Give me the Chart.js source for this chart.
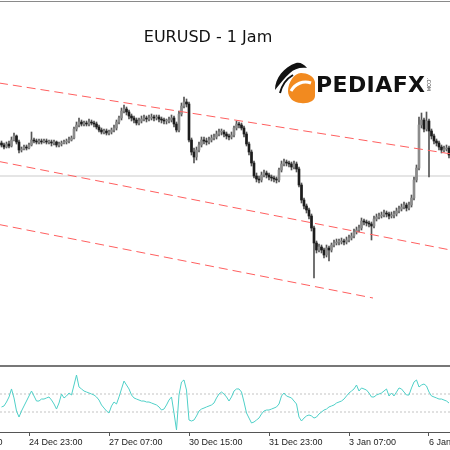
<!DOCTYPE html>
<html>
<head>
<meta charset="utf-8">
<script src="https://cdn.jsdelivr.net/npm/chart.js@4.4.1/dist/chart.umd.min.js"></script>
<style>
  html,body{margin:0;padding:0;background:#fff;}
  #wrap{position:relative;width:450px;height:450px;overflow:hidden;background:#fff;}
  canvas{position:absolute;left:0;}
  .title{position:absolute;left:0;top:29px;width:416px;text-align:center;font-family:"DejaVu Sans",sans-serif;font-size:16px;line-height:16px;color:#111;}
  .brand{position:absolute;left:316px;top:74px;font-family:"DejaVu Sans",sans-serif;font-weight:bold;font-size:22px;line-height:22px;color:#111;letter-spacing:0.4px;}
  .dotcom{position:absolute;left:419px;top:82px;width:18px;text-align:center;font-family:"DejaVu Sans",sans-serif;font-size:5px;line-height:5px;color:#333;transform:rotate(90deg);}
</style>
</head>
<body>
<div id="wrap">
  <div style="position:absolute;left:0;top:1px;width:450px;height:1px;background:#8a8a8a;"></div>
  <canvas id="main" width="450" height="365" style="top:0;"></canvas>
  <div style="position:absolute;left:0;top:365px;width:450px;height:2px;background:#777;"></div>
  <canvas id="osc" width="450" height="83" style="top:367px;"></canvas>
  <div class="title">EURUSD - 1 Jam</div>
  <svg style="position:absolute;left:270px;top:58px" width="50" height="50" viewBox="0 0 50 50">
    <path d="M31 15 C37 15 44 18 45 24 L45 38 C45 43 38 46 31 45 C24 45 18 40 18 33 C18 25 24 15 31 15 Z" fill="#f28a1f"/>
    <path d="M21 33 C25 26 33 22 41 25" stroke="#fff" stroke-width="3" fill="none"/>
    <path d="M5 32 C5 20 14 9 26 5 C30 4 34 6 37 10 C30 9 24 11 20 15 C14 20 10 26 5 32 Z" fill="#111"/>
    <path d="M10 35 C12 27 16 21 23 17" stroke="#111" stroke-width="2" fill="none"/>
  </svg>
  <div class="brand">PEDIAFX</div>
  <div class="dotcom">.COM</div>
</div>
<script>
// ---- data ----
const tickIndex  = [-21, 11, 43, 75, 107, 139, 171];
const tickLabels = ['23 Dec 15:00','24 Dec 23:00','27 Dec 07:00','30 Dec 15:00','31 Dec 23:00','3 Jan 07:00','6 Jan 15:00'];

const opens = [
1.0414,1.0412,1.0410,1.0413,1.0411,1.0417,1.0421,1.0415,1.0407,1.0408,
1.0410,1.0409,1.0412,1.0417,1.0416,1.0415,1.0416,1.0415,1.0416,1.0415,
1.0415,1.0414,1.0415,1.0412,1.0413,1.0414,1.0415,1.0416,1.0417,1.0419,
1.0428,1.0432,1.0435,1.0433,1.0434,1.0433,1.0435,1.0434,1.0433,1.0430,
1.0427,1.0425,1.0426,1.0424,1.0425,1.0427,1.0429,1.0435,1.0439,1.0446,
1.0448,1.0445,1.0441,1.0439,1.0437,1.0434,1.0436,1.0438,1.0439,1.0438,
1.0439,1.0440,1.0439,1.0440,1.0438,1.0437,1.0436,1.0436,1.0437,1.0439,
1.0433,1.0427,1.0443,1.0451,1.0455,1.0453,1.0417,1.0405,1.0400,1.0407,
1.0412,1.0417,1.0416,1.0415,1.0417,1.0419,1.0420,1.0423,1.0425,1.0425,
1.0423,1.0421,1.0420,1.0422,1.0429,1.0433,1.0432,1.0429,1.0423,1.0413,
1.0405,1.0394,1.0381,1.0378,1.0377,1.0382,1.0384,1.0382,1.0380,1.0379,
1.0378,1.0377,1.0387,1.0393,1.0395,1.0394,1.0393,1.0390,1.0393,1.0388,
1.0372,1.0357,1.0351,1.0347,1.0341,1.0329,1.0314,1.0307,1.0310,1.0307,
1.0302,1.0309,1.0307,1.0312,1.0314,1.0315,1.0315,1.0316,1.0315,1.0317,
1.0319,1.0321,1.0325,1.0327,1.0329,1.0336,1.0335,1.0334,1.0333,1.0331,
1.0338,1.0340,1.0341,1.0342,1.0344,1.0343,1.0341,1.0342,1.0343,1.0346,
1.0348,1.0350,1.0352,1.0349,1.0352,1.0359,1.0377,1.0389,1.0432,1.0437,
1.0428,1.0436,1.0426,1.0421,1.0416,1.0414,1.0410,1.0407,1.0408,1.0409];

const highs = [
1.0416,1.0414,1.0415,1.0416,1.0420,1.0424,1.0422,1.0417,1.0410,1.0412,
1.0412,1.0414,1.0425,1.0419,1.0418,1.0418,1.0418,1.0418,1.0418,1.0417,
1.0417,1.0417,1.0416,1.0415,1.0416,1.0417,1.0418,1.0420,1.0421,1.0430,
1.0435,1.0439,1.0437,1.0436,1.0436,1.0438,1.0437,1.0436,1.0435,1.0432,
1.0429,1.0428,1.0428,1.0427,1.0429,1.0432,1.0437,1.0441,1.0449,1.0452,
1.0450,1.0447,1.0443,1.0441,1.0439,1.0439,1.0441,1.0442,1.0441,1.0442,
1.0443,1.0442,1.0442,1.0442,1.0440,1.0439,1.0438,1.0440,1.0442,1.0441,
1.0435,1.0446,1.0454,1.0460,1.0458,1.0455,1.0419,1.0409,1.0410,1.0415,
1.0420,1.0420,1.0419,1.0420,1.0422,1.0423,1.0426,1.0428,1.0428,1.0427,
1.0425,1.0423,1.0425,1.0431,1.0436,1.0435,1.0434,1.0431,1.0425,1.0415,
1.0407,1.0396,1.0384,1.0381,1.0385,1.0387,1.0386,1.0384,1.0382,1.0381,
1.0380,1.0389,1.0396,1.0398,1.0397,1.0396,1.0395,1.0396,1.0395,1.0390,
1.0374,1.0359,1.0353,1.0349,1.0343,1.0331,1.0316,1.0313,1.0312,1.0309,
1.0312,1.0311,1.0314,1.0317,1.0318,1.0318,1.0319,1.0318,1.0320,1.0322,
1.0324,1.0328,1.0330,1.0332,1.0339,1.0338,1.0337,1.0336,1.0335,1.0341,
1.0343,1.0344,1.0345,1.0347,1.0346,1.0345,1.0345,1.0346,1.0349,1.0351,
1.0353,1.0355,1.0354,1.0355,1.0362,1.0380,1.0392,1.0440,1.0444,1.0439,
1.0445,1.0438,1.0428,1.0423,1.0418,1.0416,1.0412,1.0411,1.0412,1.0411];

const lows = [
1.0410,1.0408,1.0409,1.0409,1.0410,1.0416,1.0413,1.0404,1.0405,1.0407,
1.0407,1.0408,1.0411,1.0414,1.0413,1.0413,1.0413,1.0414,1.0413,1.0413,
1.0411,1.0412,1.0410,1.0410,1.0411,1.0413,1.0413,1.0414,1.0416,1.0418,
1.0426,1.0430,1.0431,1.0431,1.0431,1.0431,1.0432,1.0430,1.0428,1.0425,
1.0423,1.0423,1.0422,1.0422,1.0423,1.0425,1.0427,1.0433,1.0437,1.0444,
1.0442,1.0438,1.0436,1.0434,1.0432,1.0432,1.0434,1.0436,1.0435,1.0436,
1.0437,1.0436,1.0437,1.0435,1.0434,1.0433,1.0433,1.0434,1.0435,1.0430,
1.0425,1.0425,1.0441,1.0449,1.0450,1.0415,1.0402,1.0394,1.0397,1.0405,
1.0410,1.0413,1.0412,1.0413,1.0415,1.0417,1.0418,1.0421,1.0422,1.0420,
1.0418,1.0417,1.0418,1.0420,1.0427,1.0429,1.0427,1.0420,1.0411,1.0402,
1.0391,1.0379,1.0375,1.0374,1.0375,1.0380,1.0379,1.0377,1.0376,1.0375,
1.0374,1.0375,1.0385,1.0391,1.0391,1.0390,1.0387,1.0388,1.0385,1.0370,
1.0354,1.0348,1.0344,1.0338,1.0326,1.0279,1.0304,1.0305,1.0304,1.0299,
1.0300,1.0296,1.0305,1.0310,1.0312,1.0312,1.0313,1.0312,1.0313,1.0315,
1.0317,1.0319,1.0323,1.0325,1.0327,1.0332,1.0331,1.0330,1.0317,1.0329,
1.0336,1.0338,1.0339,1.0340,1.0340,1.0338,1.0339,1.0339,1.0341,1.0344,
1.0346,1.0348,1.0346,1.0347,1.0350,1.0357,1.0375,1.0387,1.0429,1.0425,
1.0426,1.0380,1.0418,1.0413,1.0411,1.0407,1.0404,1.0405,1.0406,1.0399];

const closes = [
1.0412,1.0410,1.0413,1.0411,1.0417,1.0421,1.0415,1.0407,1.0408,1.0410,
1.0409,1.0412,1.0417,1.0416,1.0415,1.0416,1.0415,1.0416,1.0415,1.0415,
1.0414,1.0415,1.0412,1.0413,1.0414,1.0415,1.0416,1.0417,1.0419,1.0428,
1.0432,1.0435,1.0433,1.0434,1.0433,1.0435,1.0434,1.0433,1.0430,1.0427,
1.0425,1.0426,1.0424,1.0425,1.0427,1.0429,1.0435,1.0439,1.0446,1.0448,
1.0445,1.0441,1.0439,1.0437,1.0434,1.0436,1.0438,1.0439,1.0438,1.0439,
1.0440,1.0439,1.0440,1.0438,1.0437,1.0436,1.0436,1.0437,1.0439,1.0433,
1.0427,1.0443,1.0451,1.0455,1.0453,1.0417,1.0405,1.0400,1.0407,1.0412,
1.0417,1.0416,1.0415,1.0417,1.0419,1.0420,1.0423,1.0425,1.0425,1.0423,
1.0421,1.0420,1.0422,1.0429,1.0433,1.0432,1.0429,1.0423,1.0413,1.0405,
1.0394,1.0381,1.0378,1.0377,1.0382,1.0384,1.0382,1.0380,1.0379,1.0378,
1.0377,1.0387,1.0393,1.0395,1.0394,1.0393,1.0390,1.0393,1.0388,1.0372,
1.0357,1.0351,1.0347,1.0341,1.0329,1.0314,1.0307,1.0310,1.0307,1.0302,
1.0309,1.0307,1.0312,1.0314,1.0315,1.0315,1.0316,1.0315,1.0317,1.0319,
1.0321,1.0325,1.0327,1.0329,1.0336,1.0335,1.0334,1.0333,1.0331,1.0338,
1.0340,1.0341,1.0342,1.0344,1.0343,1.0341,1.0342,1.0343,1.0346,1.0348,
1.0350,1.0352,1.0349,1.0352,1.0359,1.0377,1.0389,1.0432,1.0437,1.0428,
1.0436,1.0426,1.0421,1.0416,1.0414,1.0410,1.0407,1.0408,1.0409,1.0402];

const oscValues = [
45.6,46.7,51.1,56.7,65.6,55.6,41.1,34.4,41.1,46.7,
52.2,57.8,63.3,57.8,52.2,52.2,54.4,54.4,55.6,56.7,
53.3,48.9,43.3,50.0,60.0,55.6,57.8,61.1,58.9,70.0,
81.1,67.8,65.6,63.3,62.2,61.1,60.0,58.9,56.7,53.3,
47.8,44.4,41.1,38.9,46.7,51.1,48.9,56.7,65.6,74.4,
70.0,65.6,58.9,55.6,54.4,53.3,52.2,52.2,51.1,51.1,
50.0,48.9,47.8,45.6,42.2,43.3,47.8,53.3,56.7,38.9,
20.0,58.9,73.3,75.6,64.4,31.1,30.0,31.1,35.6,41.1,
43.3,44.4,45.6,46.7,47.8,50.0,55.6,60.0,62.2,60.0,
56.7,52.2,56.7,63.3,65.6,65.6,62.2,51.1,38.9,33.3,
27.8,28.9,31.1,33.3,37.8,41.1,42.2,42.2,43.3,44.4,
45.6,48.9,57.8,61.1,57.8,56.7,55.6,52.2,48.9,34.4,
30.0,33.3,35.6,36.7,35.6,33.3,34.4,37.8,40.0,42.2,
43.3,45.6,46.7,47.8,50.0,51.1,52.2,54.4,57.8,61.1,
63.3,65.6,70.0,63.3,66.7,65.6,64.4,61.1,56.7,56.7,
58.9,60.0,61.1,63.3,65.6,57.8,61.1,57.8,62.2,66.7,
65.6,62.2,58.9,58.9,66.7,73.3,75.6,67.8,70.0,71.1,
68.9,62.2,57.8,56.7,55.6,54.4,54.4,53.3,52.2,50.0];
const oscLevels = [60, 40];

// trend channel (bar index, price)
const chanTopIdx = [-1, 180],   chanTopPrice = [1.0474, 1.0403];
const chanMidIdx = [-1, 180],   chanMidPrice = [1.03955, 1.03068];
const chanBotIdx = [-1, 148.6], chanBotPrice = [1.03325, 1.0259];
const hLinePrice = 1.0381;

// ---- charts ----
Chart.defaults.font.family = '"Liberation Sans", sans-serif';
const xMin = -0.6, xMax = 179.4;

const bodies = opens.map((o, i) => ({x: i, y: [o, closes[i]]}));
const bodyColors = opens.map((o, i) => closes[i] >= o ? '#8c8c8c' : '#1c1c1c');
const wicks = highs.map((h, i) => ({x: i, y: [lows[i], h]}));
const pts = (xs, ys) => xs.map((x, k) => ({x: x, y: ys[k]}));

new Chart(document.getElementById('main'), {
  type: 'bar',
  data: {
    datasets: [
      {type:'line', data: pts(chanTopIdx, chanTopPrice), borderColor:'rgb(255,95,95)', borderWidth:1, borderDash:[9,5], pointRadius:0, order:0},
      {type:'line', data: pts(chanMidIdx, chanMidPrice), borderColor:'rgb(255,95,95)', borderWidth:1, borderDash:[9,5], pointRadius:0, order:0},
      {type:'line', data: pts(chanBotIdx, chanBotPrice), borderColor:'rgb(255,95,95)', borderWidth:1, borderDash:[9,5], pointRadius:0, order:0},
      {type:'bar', data: bodies, backgroundColor: bodyColors, barThickness:2, grouped:false, minBarLength:1, order:1},
      {type:'bar', data: wicks, backgroundColor:'#555', barThickness:1, grouped:false, order:2},
      {type:'line', data: pts([xMin, xMax], [hLinePrice, hLinePrice]), borderColor:'#dcdcdc', borderWidth:1.5, pointRadius:0, order:5}
    ]
  },
  options: {
    responsive:false, animation:false, devicePixelRatio:1,
    layout:{padding:0},
    plugins:{legend:{display:false}, tooltip:{enabled:false}},
    scales:{
      x:{type:'linear', min:xMin, max:xMax, offset:false, display:false},
      y:{type:'linear', min:1.0192, max:1.0557, display:false}
    }
  }
});

new Chart(document.getElementById('osc'), {
  type: 'line',
  data: {
    datasets: [
      {data: oscValues.map((v, i) => ({x: i, y: v})), borderColor:'#4fd0c8', borderWidth:1, pointRadius:0, tension:0, order:0},
      {data: pts([xMin, xMax], [oscLevels[0], oscLevels[0]]), borderColor:'#c4c4c4', borderWidth:1, borderDash:[2,2], pointRadius:0, order:1},
      {data: pts([xMin, xMax], [oscLevels[1], oscLevels[1]]), borderColor:'#c4c4c4', borderWidth:1, borderDash:[2,2], pointRadius:0, order:1}
    ]
  },
  options: {
    responsive:false, animation:false, devicePixelRatio:1,
    layout:{padding:0},
    plugins:{legend:{display:false}, tooltip:{enabled:false}},
    scales:{
      x:{
        type:'linear', min:xMin, max:xMax, offset:false, position:'bottom',
        afterBuildTicks: s => { s.ticks = tickIndex.map(v => ({value: v})); },
        afterFit: s => { s.height = 18; s.paddingLeft = 0; s.paddingRight = 0; },
        grid:{drawOnChartArea:false, drawTicks:true, tickLength:4, color:'#555', tickColor:'#555'},
        border:{display:true, color:'#555', width:1},
        ticks:{autoSkip:false, maxRotation:0, minRotation:0, align:'start', padding:1, color:'#222',
               font:{size:9},
               callback: v => { const k = tickIndex.indexOf(v); return k >= 0 ? tickLabels[k] : ''; }}
      },
      y:{type:'linear', min:17.78, max:90, display:false}
    }
  }
});
</script>
</body>
</html>
